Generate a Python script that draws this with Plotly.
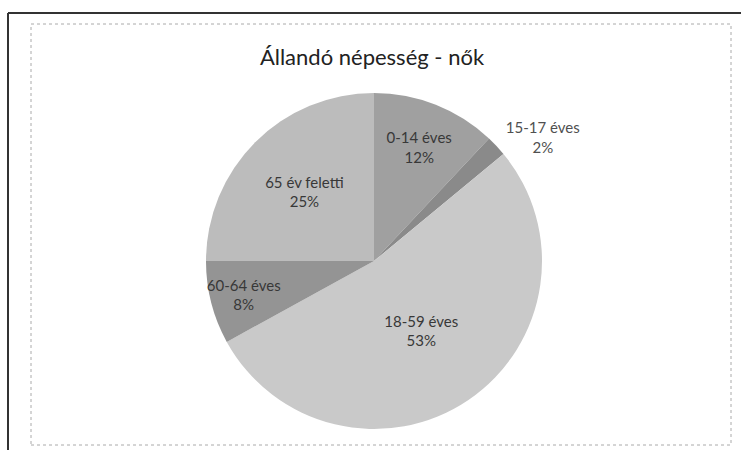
import plotly.graph_objects as go

# age groups, clockwise from 12 o'clock
labels = ['0-14 éves', '15-17 éves', '18-59 éves', '60-64 éves', '65 év feletti']
values = [12, 2, 53, 8, 25]
colors = ['#a0a0a0', '#8a8a8a', '#c9c9c9', '#949494', '#bcbcbc']
positions = ['inside', 'outside', 'inside', 'inside', 'inside']

W, H = 741, 450
cx, cy, r = 374, 261, 168
FONT = 'Lato, Open Sans, sans-serif'

fig = go.Figure(go.Pie(
    labels=labels,
    values=values,
    sort=False,
    direction='clockwise',
    rotation=0,
    marker=dict(colors=colors, line=dict(width=0)),
    texttemplate='%{label}<br>%{percent:.0%}',
    textposition=positions,
    insidetextorientation='horizontal',
    textfont=dict(family=FONT, size=15, color='#383838'),
    outsidetextfont=dict(family=FONT, size=15, color='#505050'),
    domain=dict(x=[(cx - r) / W, (cx + r) / W], y=[1 - (cy + r) / H, 1 - (cy - r) / H]),
    showlegend=False,
    hoverinfo='label+percent',
))

fig.update_layout(
    width=W, height=H,
    margin=dict(l=0, r=0, t=0, b=0),
    paper_bgcolor='white',
    uniformtext=dict(minsize=15, mode='show'),
    title=dict(text='Állandó népesség - nők', x=0.502, xanchor='center', y=1 - 57 / H, yanchor='middle',
               font=dict(family=FONT, size=22, color='#222222')),
    shapes=[
        # outer frame (top and left edges)
        dict(type='line', xref='paper', yref='paper', x0=8 / W, x1=1, y0=1 - 13 / H, y1=1 - 13 / H,
             line=dict(color='#333333', width=2)),
        dict(type='line', xref='paper', yref='paper', x0=8 / W, x1=8 / W, y0=0, y1=1 - 13 / H,
             line=dict(color='#333333', width=2)),
        # inner dotted chart border
        dict(type='rect', xref='paper', yref='paper', x0=31 / W, x1=731 / W, y0=1 - 445 / H, y1=1 - 24 / H,
             line=dict(color='#aaaaaa', width=1, dash='dot')),
    ],
)

# drop the default 8px body margin so the figure sits at the window origin
fig.write_html('out.html', config={'displayModeBar': False},
               post_script="document.body.style.margin='0';")
